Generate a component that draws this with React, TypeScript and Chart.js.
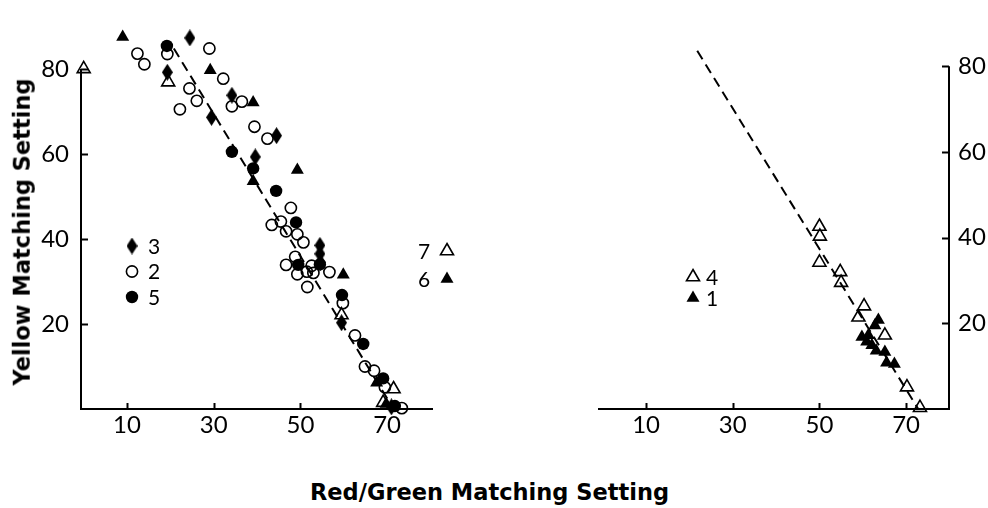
import React, { useEffect, useRef } from "react";
import { Chart, registerables } from "chart.js";

Chart.register(...registerables);

// ---------- tick labels ----------
const xTickValues = [10, 30, 50, 70];
const yTickValues = [20, 40, 60, 80];

// ---------- left panel series: [red/green, yellow] ----------
const subject3 = [
  [19.3, 79.2], [24.5, 87.3], [29.5, 68.6], [34.2, 73.8], [39.6, 59.3], [44.5, 64.3],
  [54.5, 38.5], [54.5, 36.5], [54.6, 34.5], [59.5, 20.3], [71.0, 0.5],
];
const subject2 = [
  [12.4, 83.6], [14.0, 81.1], [19.3, 83.5], [29.0, 84.8], [32.2, 77.7], [24.4, 75.4],
  [26.1, 72.5], [22.2, 70.5], [34.2, 71.2], [36.5, 72.3], [39.4, 66.4], [42.4, 63.6],
  [47.8, 47.3], [43.4, 43.3], [45.5, 44.1], [46.7, 41.8], [49.3, 41.1], [50.7, 39.2],
  [48.8, 35.8], [46.7, 33.9], [49.3, 31.7], [51.5, 32.3], [53.0, 32.0], [52.6, 33.7],
  [56.7, 32.2], [51.6, 28.7], [59.8, 24.9], [62.6, 17.3], [64.9, 10.0], [67.0, 9.0],
  [69.5, 5.1], [73.4, 0.2],
];
const subject5 = [
  [19.2, 85.4], [34.2, 60.5], [39.1, 56.6], [44.4, 51.3], [49.0, 43.9], [49.5, 33.9],
  [54.5, 34.0], [59.6, 26.8], [64.5, 15.3], [69.1, 7.2], [71.8, 0.7],
];
const subject6 = [
  [9.0, 87.5], [29.2, 79.7], [39.1, 72.1], [39.1, 53.6], [49.3, 56.2], [59.9, 31.6],
  [67.6, 6.2], [69.8, 1.2],
];
const subject7 = [
  [0.0, 80.0], [19.5, 76.9], [59.5, 22.1], [71.5, 4.7], [69.1, 1.5],
];
const leftFitLine = [[20.8, 84.8], [71.5, 0]];

// ---------- right panel series ----------
const subject4 = [
  [50.0, 42.6], [50.1, 40.3], [50.0, 34.2], [54.8, 32.0], [55.0, 29.5], [60.3, 24.0],
  [59.0, 21.4], [65.1, 17.2], [70.2, 5.1], [73.2, 0.3],
];
const subject1 = [
  [63.6, 20.8], [62.8, 19.5], [59.8, 16.8], [61.3, 17.2], [60.9, 15.7], [62.1, 14.9],
  [63.1, 13.6], [65.1, 13.3], [65.5, 10.8], [67.3, 10.5],
];
const rightFitLine = [[21.8, 83.6], [72.8, 0]];

// ---------- legends ----------
const leftLegendA = [
  { kind: "diamond", label: "3" },
  { kind: "circle", label: "2" },
  { kind: "dot", label: "5" },
];
const leftLegendB = [
  { kind: "otri", label: "7" },
  { kind: "tri", label: "6" },
];
const rightLegend = [
  { kind: "otri", label: "4" },
  { kind: "tri", label: "1" },
];

const INK = "#000";
const TICK_FONT = { family: "Lato", size: 24 };
const LEGEND_FONT = "21px Lato";
const TITLE_FONT = "bold 22.5px 'DejaVu Sans'";

const pts = (arr: number[][]) => arr.map(([x, y]) => ({ x, y }));

let diamondImg: HTMLCanvasElement | null = null;
function getDiamond() {
  if (diamondImg) return diamondImg;
  const w = 11, h = 17;
  const c = document.createElement("canvas");
  c.width = w;
  c.height = h;
  const g = c.getContext("2d")!;
  g.fillStyle = INK;
  g.beginPath();
  g.moveTo(w / 2, 0);
  g.lineTo(w, h / 2);
  g.lineTo(w / 2, h);
  g.lineTo(0, h / 2);
  g.closePath();
  g.fill();
  diamondImg = c;
  return c;
}

function triPath(ctx: CanvasRenderingContext2D, x: number, y: number, r: number) {
  let rad = 0;
  ctx.beginPath();
  for (let i = 0; i < 3; i++) {
    const px = x + Math.sin(rad) * r;
    const py = y - Math.cos(rad) * r;
    if (i === 0) ctx.moveTo(px, py);
    else ctx.lineTo(px, py);
    rad += (2 * Math.PI) / 3;
  }
  ctx.closePath();
}

function drawMarker(ctx: CanvasRenderingContext2D, kind: string, x: number, y: number) {
  ctx.save();
  ctx.fillStyle = INK;
  ctx.strokeStyle = INK;
  ctx.lineWidth = 1.6;
  if (kind === "diamond") {
    const d = getDiamond();
    ctx.drawImage(d, x - d.width / 2, y - d.height / 2);
  } else if (kind === "circle") {
    ctx.beginPath();
    ctx.arc(x, y, 5.6, 0, Math.PI * 2);
    ctx.stroke();
  } else if (kind === "dot") {
    ctx.beginPath();
    ctx.arc(x, y, 6.2, 0, Math.PI * 2);
    ctx.fill();
  } else if (kind === "tri") {
    triPath(ctx, x, y, 7.5);
    ctx.fill();
  } else if (kind === "otri") {
    triPath(ctx, x, y, 7.5);
    ctx.stroke();
  }
  ctx.restore();
}

type LegendBlock = {
  items: { kind: string; label: string }[];
  markerX: number;
  textX: number;
  textFirst: boolean;
  y0: number;
  dy: number;
};

function makeAxesPlugin(side: "left" | "right", legends: LegendBlock[]) {
  return {
    id: "customAxes" + side,
    afterDraw(chart: any) {
      const ctx: CanvasRenderingContext2D = chart.ctx;
      const xs = chart.scales.x;
      const ys = chart.scales.y;
      const area = chart.chartArea;
      const y0 = ys.getPixelForValue(0);
      const yTop = ys.getPixelForValue(yTickValues[yTickValues.length - 1]);
      const axX = side === "left" ? area.left : area.right;
      ctx.save();
      ctx.strokeStyle = INK;
      ctx.lineWidth = 2;
      ctx.lineCap = "butt";
      // x axis
      ctx.beginPath();
      ctx.moveTo(area.left, y0);
      ctx.lineTo(area.right, y0);
      ctx.stroke();
      // y axis
      ctx.beginPath();
      ctx.moveTo(axX, y0 + 1);
      ctx.lineTo(axX, yTop);
      ctx.stroke();
      // x tick marks (inward)
      xTickValues.forEach((v) => {
        const px = Math.round(xs.getPixelForValue(v)) + 0.5;
        ctx.beginPath();
        ctx.moveTo(px, y0);
        ctx.lineTo(px, y0 - 6);
        ctx.stroke();
      });
      // y tick marks (inward)
      yTickValues.forEach((v) => {
        const py = Math.round(ys.getPixelForValue(v)) + 0.5;
        ctx.beginPath();
        ctx.moveTo(axX, py);
        ctx.lineTo(side === "left" ? axX + 7 : axX - 7, py);
        ctx.stroke();
      });
      // legends
      ctx.font = LEGEND_FONT;
      ctx.fillStyle = INK;
      ctx.textBaseline = "middle";
      ctx.textAlign = "left";
      legends.forEach((lg) => {
        lg.items.forEach((it, i) => {
          const y = lg.y0 + i * lg.dy;
          drawMarker(ctx, it.kind, lg.markerX, y);
          ctx.fillText(it.label, lg.textX, y + 1);
        });
      });
      ctx.restore();
    },
  };
}

const scatterSet = (data: number[][], style: any) => ({
  type: "scatter",
  data: pts(data),
  clip: false,
  order: 0,
  ...style,
});

const fitSet = (data: number[][]) => ({
  type: "line",
  data: pts(data),
  showLine: true,
  borderColor: INK,
  borderWidth: 2,
  borderDash: [10, 6],
  pointRadius: 0,
  fill: false,
  clip: false,
  order: 10,
});

function buildScales(side: "left" | "right", xmin: number, xmax: number, yAxisWidth: number) {
  return {
    x: {
      type: "linear",
      min: xmin,
      max: xmax,
      grid: { display: false, drawTicks: false },
      border: { display: false },
      afterBuildTicks: (s: any) => {
        s.ticks = xTickValues.map((v) => ({ value: v }));
      },
      afterFit: (s: any) => {
        s.height = 51;
      },
      ticks: {
        color: INK,
        font: TICK_FONT,
        padding: 2,
        maxRotation: 0,
        autoSkip: false,
        callback: (v: any) => String(v),
      },
    },
    y: {
      type: "linear",
      position: side,
      min: 0,
      max: 90,
      grid: { display: false, drawTicks: false },
      border: { display: false },
      afterBuildTicks: (s: any) => {
        s.ticks = yTickValues.map((v) => ({ value: v }));
      },
      afterFit: (s: any) => {
        s.width = yAxisWidth;
      },
      ticks: {
        color: INK,
        font: TICK_FONT,
        padding: side === "left" ? 12 : 9,
        autoSkip: false,
        callback: (v: any) => String(v),
      },
    },
  };
}

const circleOpen = { pointStyle: "circle", pointRadius: 5.6, pointBorderWidth: 1.6, pointBorderColor: INK, pointBackgroundColor: "rgba(0,0,0,0)" };
const circleFilled = { pointStyle: "circle", pointRadius: 6.2, pointBorderWidth: 0, pointBackgroundColor: INK, pointBorderColor: INK };
const triFilled = { pointStyle: "triangle", pointRadius: 7.5, pointBorderWidth: 0, pointBackgroundColor: INK, pointBorderColor: INK };
const triOpen = { pointStyle: "triangle", pointRadius: 7.5, pointBorderWidth: 1.6, pointBorderColor: INK, pointBackgroundColor: "rgba(0,0,0,0)" };

export default function App() {
  const leftRef = useRef<HTMLCanvasElement>(null);
  const rightRef = useRef<HTMLCanvasElement>(null);

  useEffect(() => {
    const diamond = getDiamond();
    const common = {
      responsive: false,
      animation: false,
      events: [],
      plugins: { legend: { display: false }, tooltip: { enabled: false } },
    };

    const left = new Chart(leftRef.current!, {
      type: "scatter",
      data: {
        datasets: [
          fitSet(leftFitLine),
          scatterSet(subject2, circleOpen),
          scatterSet(subject7, triOpen),
          scatterSet(subject6, triFilled),
          scatterSet(subject5, circleFilled),
          scatterSet(subject3, { pointStyle: diamond, pointRadius: 8 }),
        ] as any,
      },
      options: {
        ...common,
        layout: { padding: { top: 13, right: 37, left: 0, bottom: 0 } },
        scales: buildScales("left", -0.62, 80.6, 81) as any,
      } as any,
      plugins: [
        makeAxesPlugin("left", [
          { items: leftLegendA, markerX: 132, textX: 148, textFirst: false, y0: 246, dy: 25.5 },
          { items: leftLegendB, markerX: 447, textX: 418, textFirst: true, y0: 251, dy: 28 },
        ]),
      ],
    });

    const right = new Chart(rightRef.current!, {
      type: "scatter",
      data: {
        datasets: [
          fitSet(rightFitLine),
          scatterSet(subject4, triOpen),
          scatterSet(subject1, triFilled),
        ] as any,
      },
      options: {
        ...common,
        layout: { padding: { top: 13, right: 0, left: 128, bottom: 0 } },
        scales: buildScales("right", -1.1, 79.9, 39) as any,
      } as any,
      plugins: [
        makeAxesPlugin("right", [
          { items: rightLegend, markerX: 223, textX: 236, textFirst: false, y0: 277, dy: 21 },
        ]),
      ],
    });

    return () => {
      left.destroy();
      right.destroy();
    };
  }, []);

  return (
    <div style={{ position: "absolute", left: 0, top: 0, width: 988, height: 508, background: "#fff", overflow: "hidden" }}>
      <canvas ref={leftRef} width={470} height={460} style={{ position: "absolute", left: 0, top: 0, width: 470, height: 460 }} />
      <canvas ref={rightRef} width={518} height={460} style={{ position: "absolute", left: 470, top: 0, width: 518, height: 460 }} />
      <div
        style={{
          position: "absolute",
          left: 22,
          top: 232,
          transform: "translate(-50%, -50%) rotate(-90deg)",
          whiteSpace: "nowrap",
          font: TITLE_FONT,
          lineHeight: "1",
          color: INK,
        }}
      >
        Yellow Matching Setting
      </div>
      <div
        style={{
          position: "absolute",
          left: 310,
          top: 481,
          whiteSpace: "nowrap",
          font: TITLE_FONT,
          lineHeight: "1",
          color: INK,
        }}
      >
        Red/Green Matching Setting
      </div>
    </div>
  );
}
